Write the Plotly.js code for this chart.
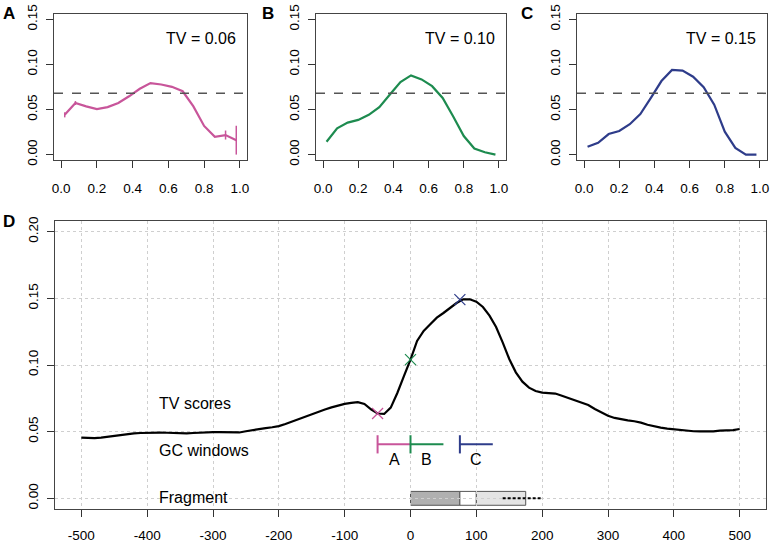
<!DOCTYPE html>
<html>
<head>
<meta charset="utf-8">
<script src="https://cdn.plot.ly/plotly-3.0.1.min.js"></script>
<style>html,body{margin:0;padding:0;background:#fff;}#chart{width:771px;height:546px;}</style>
</head>
<body>
<div id="chart"></div>
<script>
// ---------- data ----------
const gcBins = [0.02,0.08,0.14,0.20,0.26,0.32,0.38,0.44,0.50,0.56,0.62,0.68,0.74,0.80,0.86,0.92,0.98];
const densA = [0.0441,0.0572,0.0535,0.0505,0.0527,0.0572,0.0647,0.0730,0.0793,0.0778,0.0752,0.0703,0.0535,0.0318,0.0198,0.0217,0.0160];
const errA  = [0.0028,0.0022,0,0,0,0,0,0,0,0,0,0,0,0,0,0.0050,0.0160];
const densB = [0.0142,0.0292,0.0355,0.0385,0.0441,0.0527,0.0666,0.0804,0.0879,0.0834,0.0759,0.0628,0.0423,0.0206,0.0067,0.0026,0.0000];
const densC = [0.0086,0.0131,0.0228,0.0262,0.0337,0.0449,0.0629,0.0816,0.0939,0.0932,0.0864,0.0748,0.0554,0.0254,0.0075,0.0000,0.0000];
const refLevel = 0.068;
const tvLabels = ["TV = 0.06","TV = 0.10","TV = 0.15"];
const panelLetters = ["A","B","C","D"];

const posD = [];
for (let p = -500; p <= 500; p += 10) posD.push(p);
const tvD = [
 0.0455,0.0453,0.0452,0.0455,0.0462,0.0470,0.0477,0.0482,0.0487,0.0490,
 0.0492,0.0491,0.0493,0.0492,0.0490,0.0486,0.0487,0.0490,0.0493,0.0495,
 0.0497,0.0496,0.0494,0.0493,0.0494,0.0503,0.0512,0.0520,0.0527,0.0533,
 0.0542,0.0558,0.0577,0.0596,0.0613,0.0632,0.0650,0.0666,0.0682,0.0696,
 0.0708,0.0716,0.0722,0.0708,0.0668,0.0636,0.0633,0.0680,0.0790,0.0917,
 0.1040,0.1180,0.1255,0.1305,0.1355,0.1390,0.1430,0.1465,0.1492,0.1493,
 0.1475,0.1435,0.1370,0.1285,0.1170,0.1045,0.0945,0.0875,0.0830,0.0805,
 0.0793,0.0790,0.0786,0.0770,0.0752,0.0735,0.0718,0.0700,0.0670,0.0645,
 0.0620,0.0603,0.0592,0.0585,0.0578,0.0568,0.0552,0.0540,0.0530,0.0523,
 0.0517,0.0512,0.0505,0.0503,0.0502,0.0500,0.0502,0.0508,0.0510,0.0512,
 0.0520];

const windowNames = ["A","B","C"];
const windowStart = [-50, 0, 75];
const windowEnd   = [0, 50, 125];
const crossY      = [0.0636, 0.1040, 0.1490];
const windowLevel = 0.0405;
const windowLabelLevel = 0.029;
const rowLabels = ["TV scores","GC windows","Fragment"];
const rowLabelY = [0.071, 0.036, 0.001];
const rowLabelX = -385;

const fragStart = [0, 75, 100];
const fragEnd   = [75, 100, 175];
const fragTail  = [140, 200];
const fragLevel = 0;

const xTicksSmall = [0,0.2,0.4,0.6,0.8,1.0];
const yTicksSmall = [0,0.05,0.10,0.15];
const xTicksD = [-500,-400,-300,-200,-100,0,100,200,300,400,500];
const yTicksD = [0,0.05,0.10,0.15,0.20];

// ---------- styles ----------
const colors = ["#C8559A","#1D8B4F","#2E3C8A"];
const FONT = "Liberation Sans, Arial, Helvetica, sans-serif";
const W = 771, H = 546;
const px = v => v / W;
const py = v => 1 - v / H;

const traces = [];
const smallDens = [densA, densB, densC];
smallDens.forEach((d, i) => {
  const ax = i === 0 ? "" : String(i + 1);
  const tr = {
    x: gcBins, y: d, type: "scatter", mode: "lines",
    xaxis: "x" + ax, yaxis: "y" + ax,
    line: {color: colors[i], width: 2.2, shape: "linear"},
    hoverinfo: "skip"
  };
  if (i === 0) tr.error_y = {type: "data", array: errA, visible: true, color: colors[0], thickness: 1.5, width: 0};
  traces.push(tr);
});

// main curve
traces.push({x: posD, y: tvD, type: "scatter", mode: "lines", xaxis: "x4", yaxis: "y4",
  line: {color: "#000", width: 2.2}, hoverinfo: "skip"});

// crosses & windows
for (let i = 0; i < 3; i++) {
  traces.push({x: [windowStart[i]], y: [crossY[i]], type: "scatter", mode: "markers", xaxis: "x4", yaxis: "y4",
    marker: {symbol: "x-thin-open", size: 11, color: colors[i], line: {color: colors[i], width: 1.2}}, hoverinfo: "skip"});
  traces.push({x: [windowStart[i], windowEnd[i]], y: [windowLevel, windowLevel], type: "scatter", mode: "lines",
    xaxis: "x4", yaxis: "y4", line: {color: colors[i], width: 2}, hoverinfo: "skip"});
  traces.push({x: [windowStart[i]], y: [windowLevel], type: "scatter", mode: "markers", xaxis: "x4", yaxis: "y4",
    marker: {symbol: "line-ns-open", size: 13, color: colors[i], line: {color: colors[i], width: 2}}, hoverinfo: "skip"});
}
// fragment tail
traces.push({x: fragTail, y: [fragLevel, fragLevel], type: "scatter", mode: "lines", xaxis: "x4", yaxis: "y4",
  line: {color: "#000", width: 2, dash: "3px,2px"}, hoverinfo: "skip"});

const shapes = [];
const fragFill = ["#b0b0b0", "#ffffff", "#e4e4e4"];
for (let i = 0; i < 3; i++) {
  shapes.push({type: "rect", xref: "x4", yref: "y4", x0: fragStart[i], x1: fragEnd[i],
    y0: fragLevel - 0.0052, y1: fragLevel + 0.0052, fillcolor: fragFill[i],
    line: {color: "#555", width: 1}, layer: "below"});
}
for (let i = 0; i < 3; i++) {
  const ax = i === 0 ? "" : String(i + 1);
  shapes.push({type: "line", xref: "x" + ax + " domain", yref: "y" + ax, x0: 0, x1: 1, y0: refLevel, y1: refLevel,
    line: {color: "#555", width: 1.5, dash: "dash"}});
}

const annotations = [];
for (let i = 0; i < 3; i++) {
  const ax = i === 0 ? "" : String(i + 1);
  annotations.push({xref: "x" + ax, yref: "y" + ax, x: 0.99, y: 0.129, text: tvLabels[i],
    showarrow: false, xanchor: "right", yanchor: "middle", font: {family: FONT, size: 16, color: "#000"}});
}
rowLabels.forEach((t, i) => annotations.push({xref: "x4", yref: "y4", x: rowLabelX, y: rowLabelY[i], text: t,
  showarrow: false, xanchor: "left", yanchor: "middle", font: {family: FONT, size: 16, color: "#000"}}));
windowNames.forEach((t, i) => annotations.push({xref: "x4", yref: "y4", x: (windowStart[i] + windowEnd[i]) / 2,
  y: windowLabelLevel, text: t, showarrow: false, xanchor: "center", yanchor: "middle",
  font: {family: FONT, size: 16, color: "#000"}}));
const letterPos = [[9, 13], [268, 13], [527, 13], [9, 221]];
panelLetters.forEach((t, i) => annotations.push({xref: "paper", yref: "paper", x: px(letterPos[i][0]), y: py(letterPos[i][1]),
  text: "<b>" + t + "</b>", showarrow: false, xanchor: "center", yanchor: "middle",
  font: {family: FONT, size: 17, color: "#000"}}));

function smallX(domain, anchor) {
  return {domain: domain, anchor: anchor, range: [-0.04, 1.04], tickvals: xTicksSmall, ticktext: xTicksSmall.map(v => v.toFixed(1)),
    ticks: "outside", ticklen: 7, tickcolor: "#333", showline: true, mirror: true, linecolor: "#444", linewidth: 1,
    showgrid: false, zeroline: false, tickfont: {family: FONT, size: 13.5, color: "#000"}, ticklabelstandoff: 9, fixedrange: true};
}
function smallY(domain, anchor) {
  return {domain: domain, anchor: anchor, range: [-0.006, 0.156], tickvals: yTicksSmall, ticktext: yTicksSmall.map(v => v.toFixed(2)),
    ticks: "outside", ticklen: 7, tickcolor: "#333", showline: true, mirror: true, linecolor: "#444", linewidth: 1,
    showgrid: false, zeroline: false, tickangle: -90, tickfont: {family: FONT, size: 13.5, color: "#000"}, ticklabelstandoff: 4, fixedrange: true};
}
const ySmallDom = [py(160), py(14)];
const layout = {
  width: W, height: H, margin: {l: 0, r: 0, t: 0, b: 0}, showlegend: false,
  paper_bgcolor: "#fff", plot_bgcolor: "#fff", font: {family: FONT},
  xaxis: smallX([px(54), px(247)], "y"), yaxis: smallY(ySmallDom, "x"),
  xaxis2: smallX([px(316), px(506)], "y2"), yaxis2: smallY(ySmallDom, "x2"),
  xaxis3: smallX([px(577), px(767)], "y3"), yaxis3: smallY(ySmallDom, "x3"),
  xaxis4: {domain: [px(55), px(766)], anchor: "y4", range: [-540, 540], tickvals: xTicksD, ticktext: xTicksD.map(String),
    ticks: "outside", ticklen: 7, tickcolor: "#333", showline: true, mirror: true, linecolor: "#444", linewidth: 1,
    showgrid: true, gridcolor: "#cfcfcf", griddash: "dot", gridwidth: 1, zeroline: false,
    tickfont: {family: FONT, size: 13.5, color: "#000"}, ticklabelstandoff: 7, fixedrange: true},
  yaxis4: {domain: [py(509), py(221)], anchor: "x4", range: [-0.008, 0.208], tickvals: yTicksD, ticktext: yTicksD.map(v => v.toFixed(2)),
    ticks: "outside", ticklen: 7, tickcolor: "#333", showline: true, mirror: true, linecolor: "#444", linewidth: 1,
    showgrid: true, gridcolor: "#cfcfcf", griddash: "dot", gridwidth: 1, zeroline: false, tickangle: -90,
    tickfont: {family: FONT, size: 13.5, color: "#000"}, ticklabelstandoff: 4, fixedrange: true},
  shapes: shapes, annotations: annotations
};
Plotly.newPlot("chart", traces, layout, {displayModeBar: false, staticPlot: true});
</script>
</body>
</html>
